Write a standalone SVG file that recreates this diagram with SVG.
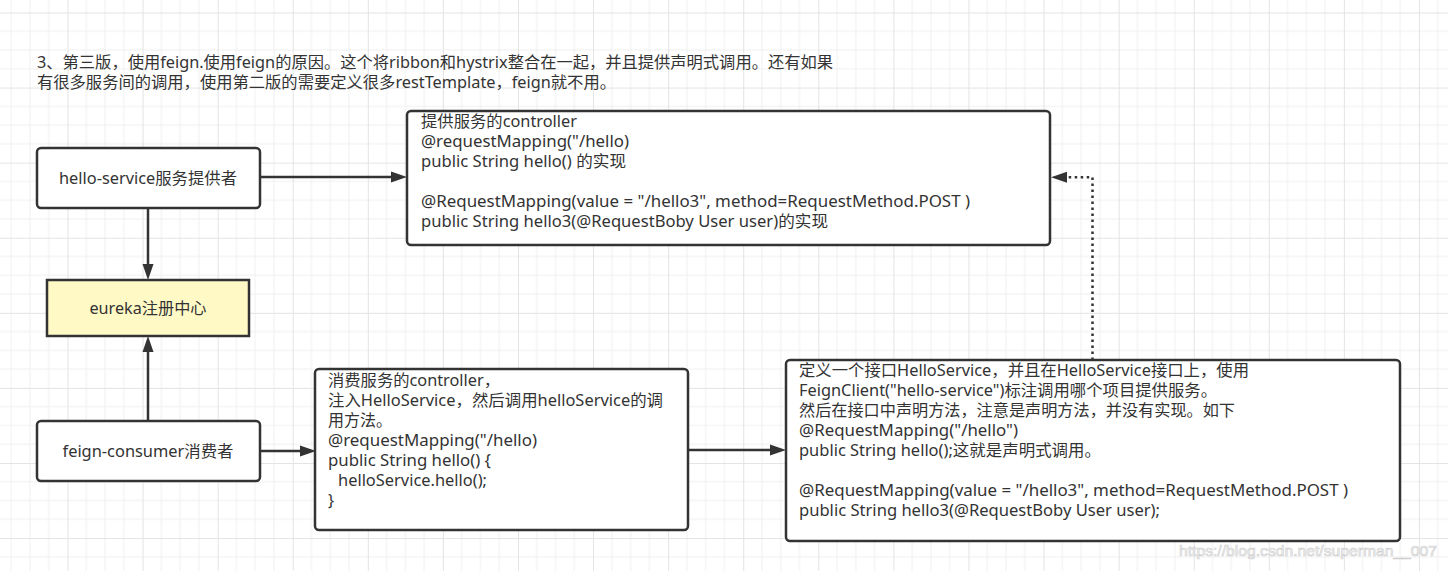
<svg xmlns="http://www.w3.org/2000/svg" width="1448" height="571" viewBox="0 0 1448 571">
<style>
.box{fill:#ffffff;stroke:#333333;stroke-width:2.5}
.yel{fill:#fff9c6;stroke:#333333;stroke-width:2.5}
.t{font-family:"Noto Sans","Noto Sans CJK SC",sans-serif;font-size:16px;fill:#333333}
.c{text-anchor:middle}
.edge{fill:none;stroke:#333333;stroke-width:2.5}
.dot{stroke-dasharray:2.5 3.5}
.wm{font-family:"Liberation Sans",sans-serif;font-size:15px;fill:#ffffff;stroke:#cfcfcf;stroke-width:0.7}
</style>
<defs>
<pattern id="grid" patternUnits="userSpaceOnUse" x="67.5" y="12.5" width="75.08" height="75.08">
<path d="M18.77,0V75.08M37.54,0V75.08M56.31,0V75.08M0,18.77H75.08M0,37.54H75.08M0,56.31H75.08" stroke="#f0f0f0" stroke-width="1" fill="none"/>
<path d="M0.5,0V75.08M0,0.5H75.08" stroke="#e3e3e3" stroke-width="1" fill="none"/>
</pattern>
<marker id="arr" markerUnits="userSpaceOnUse" markerWidth="16" markerHeight="12" refX="8" refY="6" orient="auto">
<path d="M0,0.5L16,6L0,11.5Z" fill="#333333"/>
</marker>
</defs>
<rect width="1448" height="571" fill="#ffffff"/>
<rect width="1448" height="571" fill="url(#grid)"/>

<g id="title">
<text class="t" x="37" y="68" textLength="796" lengthAdjust="spacingAndGlyphs">3、第三版，使用feign.使用feign的原因。这个将ribbon和hystrix整合在一起，并且提供声明式调用。还有如果</text>
<text class="t" x="37" y="88" textLength="579" lengthAdjust="spacingAndGlyphs">有很多服务间的调用，使用第二版的需要定义很多restTemplate，feign就不用。</text>
</g>

<g id="connectors">
<path class="edge" d="M260,177H399" marker-end="url(#arr)"/>
<path class="edge" d="M148,208V272" marker-end="url(#arr)"/>
<path class="edge" d="M148,421V344" marker-end="url(#arr)"/>
<path class="edge" d="M260,451H308" marker-end="url(#arr)"/>
<path class="edge" d="M688,450H778" marker-end="url(#arr)"/>
<path class="edge dot" d="M1092.5,360V177.3H1059" marker-end="url(#arr)"/>
</g>

<g id="hello-service">
<rect class="box" x="37" y="148" width="223" height="60" rx="4"/>
<text class="t c" x="148" y="184" textLength="178" lengthAdjust="spacingAndGlyphs">hello-service服务提供者</text>
</g>

<g id="eureka">
<rect class="yel" x="47" y="280" width="202" height="56"/>
<text class="t c" x="148" y="314" textLength="117" lengthAdjust="spacingAndGlyphs">eureka注册中心</text>
</g>

<g id="feign-consumer">
<rect class="box" x="37" y="421" width="223" height="60" rx="4"/>
<text class="t c" x="148" y="457" textLength="171" lengthAdjust="spacingAndGlyphs">feign-consumer消费者</text>
</g>

<g id="provider-controller">
<rect class="box" x="407" y="111" width="643" height="134" rx="4"/>
<text class="t" x="421" y="127" textLength="156" lengthAdjust="spacingAndGlyphs">提供服务的controller</text>
<text class="t" x="421" y="147" textLength="208" lengthAdjust="spacingAndGlyphs">@requestMapping("/hello)</text>
<text class="t" x="421" y="167" textLength="205" lengthAdjust="spacingAndGlyphs">public String hello() 的实现</text>
<text class="t" x="421" y="207" textLength="549" lengthAdjust="spacingAndGlyphs">@RequestMapping(value = "/hello3", method=RequestMethod.POST )</text>
<text class="t" x="421" y="227" textLength="407" lengthAdjust="spacingAndGlyphs">public String hello3(@RequestBoby User user)的实现</text>
</g>

<g id="consumer-controller">
<rect class="box" x="315" y="369" width="373" height="161" rx="4"/>
<text class="t" x="328" y="386" textLength="172" lengthAdjust="spacingAndGlyphs">消费服务的controller，</text>
<text class="t" x="328" y="406" textLength="335" lengthAdjust="spacingAndGlyphs">注入HelloService，然后调用helloService的调</text>
<text class="t" x="328" y="426">用方法。</text>
<text class="t" x="328" y="446" textLength="209" lengthAdjust="spacingAndGlyphs">@requestMapping("/hello)</text>
<text class="t" x="328" y="466" textLength="163" lengthAdjust="spacingAndGlyphs">public String hello() {</text>
<text class="t" x="338" y="486" textLength="149" lengthAdjust="spacingAndGlyphs">helloService.hello();</text>
<text class="t" x="328" y="506">}</text>
</g>

<g id="hello-service-interface">
<rect class="box" x="786" y="360" width="614" height="181" rx="4"/>
<text class="t" x="799" y="376" textLength="450" lengthAdjust="spacingAndGlyphs">定义一个接口HelloService，并且在HelloService接口上，使用</text>
<text class="t" x="799" y="396" textLength="418" lengthAdjust="spacingAndGlyphs">FeignClient("hello-service")标注调用哪个项目提供服务。</text>
<text class="t" x="799" y="416" textLength="436" lengthAdjust="spacingAndGlyphs">然后在接口中声明方法，注意是声明方法，并没有实现。如下</text>
<text class="t" x="799" y="436" textLength="219" lengthAdjust="spacingAndGlyphs">@RequestMapping("/hello")</text>
<text class="t" x="799" y="456" textLength="302" lengthAdjust="spacingAndGlyphs">public String hello();这就是声明式调用。</text>
<text class="t" x="799" y="496" textLength="549" lengthAdjust="spacingAndGlyphs">@RequestMapping(value = "/hello3", method=RequestMethod.POST )</text>
<text class="t" x="799" y="516" textLength="361" lengthAdjust="spacingAndGlyphs">public String hello3(@RequestBoby User user);</text>
</g>

<text class="wm" x="1179" y="556" textLength="258" lengthAdjust="spacingAndGlyphs">https://blog.csdn.net/superman__007</text>
</svg>
